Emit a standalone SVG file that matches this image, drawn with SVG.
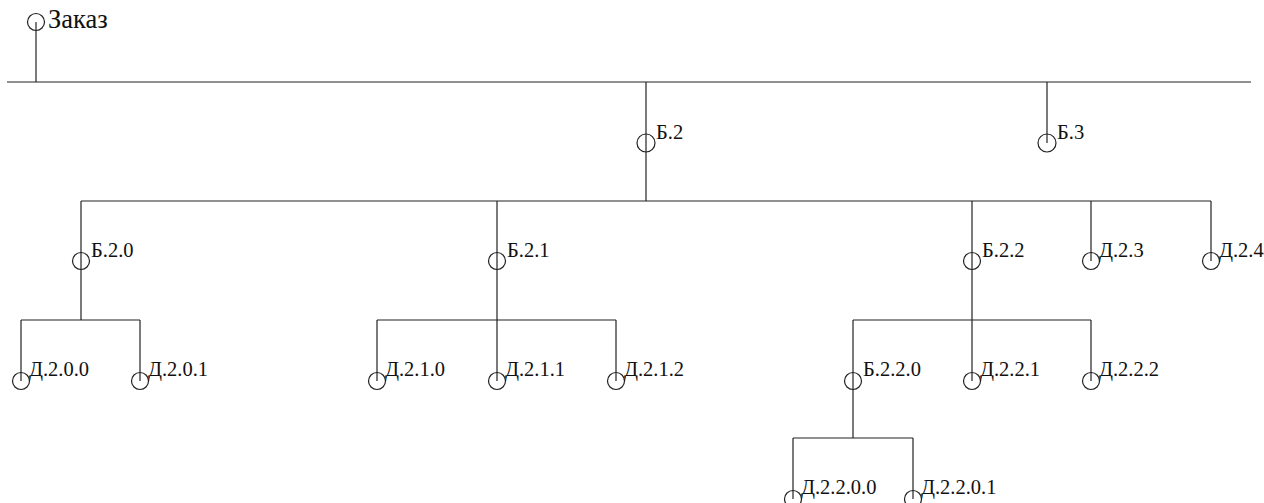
<svg xmlns="http://www.w3.org/2000/svg" width="1264" height="503" viewBox="0 0 1264 503">
<style>
.ln{stroke:#222;stroke-width:1.2;fill:none}
.nd circle{stroke:#222;stroke-width:1.2;fill:none}
.nd text{font-family:"Liberation Serif","Times New Roman",serif;font-size:20.5px;fill:#111}
</style>
<rect width="1264" height="503" fill="#fff"/>
<g id="connectors" class="ln">
<line x1="7" y1="82" x2="1251" y2="82"/>
<line x1="36" y1="22" x2="36" y2="82"/>
<line x1="646" y1="82" x2="646" y2="201"/>
<line x1="1047" y1="82" x2="1047" y2="143"/>
<line x1="81" y1="201" x2="1211" y2="201"/>
<line x1="81" y1="201" x2="81" y2="320"/>
<line x1="497" y1="201" x2="497" y2="320"/>
<line x1="972" y1="201" x2="972" y2="320"/>
<line x1="1091" y1="201" x2="1091" y2="261"/>
<line x1="1211" y1="201" x2="1211" y2="261"/>
<line x1="21" y1="320" x2="140" y2="320"/>
<line x1="21" y1="320" x2="21" y2="381"/>
<line x1="140" y1="320" x2="140" y2="381"/>
<line x1="377" y1="320" x2="616" y2="320"/>
<line x1="377" y1="320" x2="377" y2="381"/>
<line x1="497" y1="320" x2="497" y2="381"/>
<line x1="616" y1="320" x2="616" y2="381"/>
<line x1="853" y1="320" x2="1091" y2="320"/>
<line x1="853" y1="320" x2="853" y2="438"/>
<line x1="972" y1="320" x2="972" y2="381"/>
<line x1="1091" y1="320" x2="1091" y2="381"/>
<line x1="793" y1="438" x2="913" y2="438"/>
<line x1="793" y1="438" x2="793" y2="499"/>
<line x1="913" y1="438" x2="913" y2="499"/>
</g>
<g id="n-zakaz" class="nd"><circle cx="36" cy="22" r="8.5"/><text x="48" y="28" style="font-size:26.5px">Заказ</text></g>
<g id="n-b2" class="nd"><circle cx="646" cy="143" r="9"/><text x="656" y="139">Б.2</text></g>
<g id="n-b3" class="nd"><circle cx="1047" cy="143" r="9"/><text x="1057" y="139">Б.3</text></g>
<g id="n-b20" class="nd"><circle cx="81" cy="261" r="8.5"/><text x="91" y="257">Б.2.0</text></g>
<g id="n-b21" class="nd"><circle cx="497" cy="261" r="8.5"/><text x="507" y="257">Б.2.1</text></g>
<g id="n-b22" class="nd"><circle cx="972" cy="261" r="8.5"/><text x="982" y="257">Б.2.2</text></g>
<g id="n-d23" class="nd"><circle cx="1091" cy="261" r="8.5"/><text x="1099" y="257">Д.2.3</text></g>
<g id="n-d24" class="nd"><circle cx="1211" cy="261" r="8.5"/><text x="1219" y="257">Д.2.4</text></g>
<g id="n-d200" class="nd"><circle cx="21" cy="381" r="8.5"/><text x="29" y="376">Д.2.0.0</text></g>
<g id="n-d201" class="nd"><circle cx="140" cy="381" r="8.5"/><text x="148" y="376">Д.2.0.1</text></g>
<g id="n-d210" class="nd"><circle cx="377" cy="381" r="8.5"/><text x="385" y="376">Д.2.1.0</text></g>
<g id="n-d211" class="nd"><circle cx="497" cy="381" r="8.5"/><text x="505" y="376">Д.2.1.1</text></g>
<g id="n-d212" class="nd"><circle cx="616" cy="381" r="8.5"/><text x="624" y="376">Д.2.1.2</text></g>
<g id="n-b220" class="nd"><circle cx="853" cy="381" r="8.5"/><text x="863" y="376">Б.2.2.0</text></g>
<g id="n-d221" class="nd"><circle cx="972" cy="381" r="8.5"/><text x="980" y="376">Д.2.2.1</text></g>
<g id="n-d222" class="nd"><circle cx="1091" cy="381" r="8.5"/><text x="1099" y="376">Д.2.2.2</text></g>
<g id="n-d2200" class="nd"><circle cx="793" cy="499" r="8.5"/><text x="801" y="494">Д.2.2.0.0</text></g>
<g id="n-d2201" class="nd"><circle cx="913" cy="499" r="8.5"/><text x="921" y="494">Д.2.2.0.1</text></g>
</svg>
